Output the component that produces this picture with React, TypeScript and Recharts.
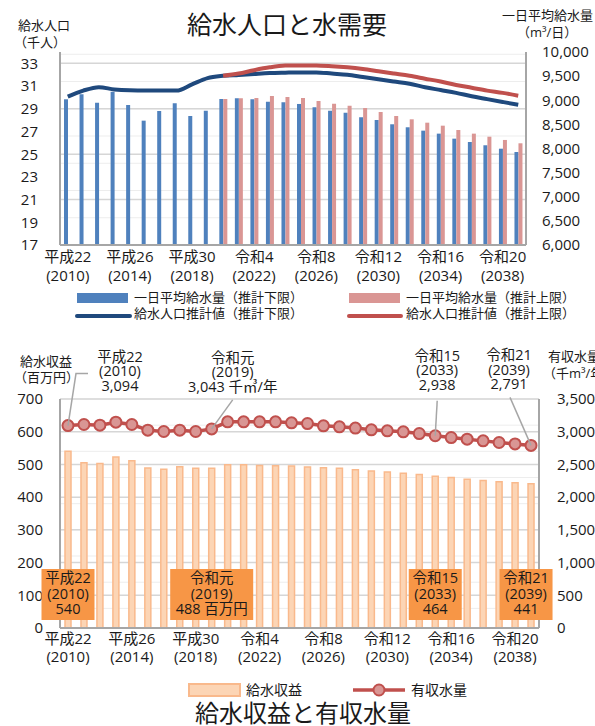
import React from 'react';
import {
  ComposedChart,
  Bar,
  Line,
  XAxis,
  YAxis,
  CartesianGrid,
  LabelList,
} from 'recharts';

const FONT = "'Open Sans', 'Noto Sans CJK JP', sans-serif";
const TEXT = '#1a1a1a';
const FRAME = '#a6a6a6';

const years = [
  2010, 2011, 2012, 2013, 2014, 2015, 2016, 2017, 2018, 2019,
  2020, 2021, 2022, 2023, 2024, 2025, 2026, 2027, 2028, 2029,
  2030, 2031, 2032, 2033, 2034, 2035, 2036, 2037, 2038, 2039,
];

const eras = [
  '平成22', '平成23', '平成24', '平成25', '平成26', '平成27', '平成28', '平成29', '平成30', '令和元',
  '令和2', '令和3', '令和4', '令和5', '令和6', '令和7', '令和8', '令和9', '令和10', '令和11',
  '令和12', '令和13', '令和14', '令和15', '令和16', '令和17', '令和18', '令和19', '令和20', '令和21',
];

// 一日平均給水量 (m3/日)
const supplyLow = [
  9020, 9124, 8950, 9178, 8902, 8577, 8778, 8937, 8674, 8784,
  9027, 9041, 9020, 8971, 8958, 8923, 8854, 8784, 8743, 8647,
  8591, 8502, 8440, 8370, 8308, 8204, 8135, 8067, 7996, 7928,
];
const supplyHigh = [
  null, null, null, null, null, null, null, null, null, null,
  9027, 9041, 9047, 9089, 9068, 9047, 8985, 8930, 8888, 8840,
  8757, 8674, 8605, 8535, 8473, 8384, 8308, 8245, 8177, 8108,
];

// 給水人口 (千人)
const popLow = [
  30.07, 30.6, 30.9, 30.7, 30.62, 30.6, 30.6, 30.6, 31.15, 31.7,
  31.9, 31.98, 32.07, 32.15, 32.18, 32.2, 32.2, 32.1, 32.0, 31.8,
  31.6, 31.4, 31.2, 30.9, 30.65, 30.4, 30.1, 29.85, 29.6, 29.35,
];
const popHigh = [
  null, null, null, null, null, null, null, null, null, null,
  31.9, 32.1, 32.4, 32.65, 32.8, 32.82, 32.8, 32.75, 32.65, 32.5,
  32.3, 32.1, 31.9, 31.65, 31.4, 31.1, 30.85, 30.6, 30.4, 30.15,
];

// 給水収益 (百万円)
const revenue = [
  540, 505, 503, 523, 511, 489, 485, 493, 488, 488,
  499, 499, 497, 496, 495, 492, 490, 488, 484, 480,
  477, 473, 469, 464, 460, 455, 451, 447, 444, 441,
];

// 有収水量 (千m3/年)
const water = [
  3094, 3110, 3100, 3146, 3110, 3024, 3003, 3024, 3003, 3043,
  3151, 3151, 3151, 3151, 3136, 3125, 3090, 3075, 3055, 3029,
  3013, 2998, 2972, 2938, 2911, 2886, 2860, 2835, 2814, 2791,
];

const popTicks = [17, 19, 21, 23, 25, 27, 29, 31, 33];
const supplyTicks = [6000, 6500, 7000, 7500, 8000, 8500, 9000, 9500, 10000];
const revenueTicks = [0, 100, 200, 300, 400, 500, 600, 700];
const waterTicks = [0, 500, 1000, 1500, 2000, 2500, 3000, 3500];
const popMinor = Array.from({ length: 43 }, (_, i) => 17 + i * 0.4);
const revenueMinor = Array.from({ length: 36 }, (_, i) => i * 20);

const highlighted = [0, 9, 23, 29];

const topData = years.map((year, i) => ({
  era: eras[i],
  year,
  supplyLow: supplyLow[i],
  supplyHigh: supplyHigh[i],
  popLow: popLow[i],
  popHigh: popHigh[i],
}));

const bottomData = years.map((year, i) => ({
  era: eras[i],
  year,
  revenue: revenue[i],
  water: water[i],
  callout: highlighted.includes(i) ? i : undefined,
}));

const fmt = (v: number) => v.toLocaleString('en-US');

// callout text / leader offsets relative to the point
const waterCallouts: Record<number, { dx: number; dy: number; leader: number[][]; unit?: string }> = {
  0: { dx: 52, dy: -64, leader: [[8, -52], [20, -52]] },
  9: { dx: 21, dy: -66, leader: [[21, -29]], unit: ' 千㎥/年' },
  23: { dx: 2, dy: -75, leader: [[2, -35]] },
  29: { dx: -22, dy: -85, leader: [[-21, -48]] },
};
const revenueBoxes: Record<number, { w: number; dx: number; unit?: string }> = {
  0: { w: 53, dx: 0 },
  9: { w: 83, dx: 0, unit: ' 百万円' },
  23: { w: 53, dx: 0 },
  29: { w: 53, dx: -5 },
};

const makeEraTick = (dy1: number, dy2: number) => (props: any) => {
  const { x, y, payload } = props;
  const i = eras.indexOf(payload.value);
  return (
    <text x={x} y={y} textAnchor="middle" fontSize={15} fill={TEXT} fontFamily={FONT}>
      <tspan x={x} dy={dy1}>{payload.value}</tspan>
      <tspan x={x} dy={dy2}>({years[i]})</tspan>
    </text>
  );
};

const WaterCallout = (props: any) => {
  const i = props.value;
  const c = waterCallouts[i];
  if (c === undefined) return null;
  const vb = props.viewBox || props;
  const px = vb.x ?? props.x;
  const py = vb.y ?? props.y;
  const pts = [[px, py], ...c.leader.map(([dx, dy]) => [px + dx, py + dy])];
  const tx = px + c.dx;
  const ty = py + c.dy;
  return (
    <g>
      <polyline
        points={pts.map((p) => p.join(',')).join(' ')}
        fill="none"
        stroke={FRAME}
        strokeWidth={1.5}
      />
      <text x={tx} y={ty} textAnchor="middle" fontSize={14.5} fill={TEXT} fontFamily={FONT}>
        <tspan x={tx} dy={0}>{eras[i]}</tspan>
        <tspan x={tx} dy={14.5}>({years[i]})</tspan>
        <tspan x={tx} dy={14.5}>{fmt(water[i]) + (c.unit || '')}</tspan>
      </text>
    </g>
  );
};

const RevenueBox = (props: any) => {
  const i = props.value;
  const b = revenueBoxes[i];
  if (b === undefined) return null;
  const vb = props.viewBox || props;
  const bx = vb.x ?? props.x;
  const by = vb.y ?? props.y;
  const bw = vb.width ?? props.width;
  const bh = vb.height ?? props.height;
  const cx = bx + bw / 2 + b.dx;
  const bottom = by + bh - 8;
  const top = bottom - 51;
  return (
    <g>
      <rect x={cx - b.w / 2} y={top} width={b.w} height={51} fill="#F79646" />
      <text x={cx} y={top} textAnchor="middle" fontSize={14.5} fill={TEXT} fontFamily={FONT}>
        <tspan x={cx} dy={14}>{eras[i]}</tspan>
        <tspan x={cx} dy={15.5}>({years[i]})</tspan>
        <tspan x={cx} dy={15.5}>{revenue[i] + (b.unit || '')}</tspan>
      </text>
    </g>
  );
};

const TopChart = () => (
  <ComposedChart
    width={595}
    height={330}
    data={topData}
    margin={{ top: 52, right: 0, left: 0, bottom: 45 }}
    barGap={0}
  >
    <CartesianGrid vertical={false} horizontalValues={popMinor} stroke="#ededed" />
    <CartesianGrid vertical={false} horizontalValues={popTicks} stroke="#d6d6d6" strokeWidth={1.5} />
    <XAxis
      dataKey="era"
      interval={3}
      height={40}
      tickLine={false}
      axisLine={{ stroke: FRAME, strokeWidth: 2 }}
      tick={makeEraTick(9, 19)}
    />
    <XAxis
      xAxisId="top"
      dataKey="era"
      orientation="top"
      height={0}
      tick={false}
      tickLine={false}
      axisLine={{ stroke: FRAME, strokeWidth: 2 }}
    />
    <YAxis
      domain={[17, 34]}
      ticks={popTicks}
      width={60}
      tickLine={false}
      tickMargin={16}
      axisLine={{ stroke: FRAME, strokeWidth: 2 }}
      tick={{ fontSize: 15, fill: TEXT, fontFamily: FONT }}
    />
    <YAxis
      yAxisId="supply"
      orientation="right"
      domain={[6000, 10000]}
      ticks={supplyTicks}
      width={69}
      tickLine={false}
      tickMargin={10}
      tickFormatter={fmt}
      axisLine={{ stroke: FRAME, strokeWidth: 2 }}
      tick={{ fontSize: 15, fill: TEXT, fontFamily: FONT, textAnchor: 'start' }}
    />
    <Bar yAxisId="supply" dataKey="supplyLow" fill="#4F81BD" barSize={4} isAnimationActive={false} />
    <Bar yAxisId="supply" dataKey="supplyHigh" fill="#DA9694" barSize={4} isAnimationActive={false} />
    <Line
      type="monotone"
      dataKey="popLow"
      stroke="#1F497D"
      strokeWidth={4}
      dot={false}
      isAnimationActive={false}
    />
    <Line
      type="monotone"
      dataKey="popHigh"
      stroke="#C0504D"
      strokeWidth={4}
      dot={false}
      connectNulls={false}
      isAnimationActive={false}
    />
  </ComposedChart>
);

const BottomChart = () => (
  <ComposedChart
    width={595}
    height={396}
    data={bottomData}
    margin={{ top: 69, right: 0, left: 0, bottom: 58 }}
  >
    <CartesianGrid vertical={false} horizontalValues={revenueMinor} stroke="#ededed" />
    <CartesianGrid vertical={false} horizontalValues={revenueTicks} stroke="#d6d6d6" strokeWidth={1.5} />
    <XAxis
      dataKey="era"
      interval={3}
      height={40}
      tickLine={false}
      axisLine={{ stroke: FRAME, strokeWidth: 2 }}
      tick={makeEraTick(8, 18)}
    />
    <XAxis
      xAxisId="top"
      dataKey="era"
      orientation="top"
      height={0}
      tick={false}
      tickLine={false}
      axisLine={{ stroke: FRAME, strokeWidth: 2 }}
    />
    <YAxis
      domain={[0, 700]}
      ticks={revenueTicks}
      width={60}
      tickLine={false}
      tickMargin={11}
      axisLine={{ stroke: FRAME, strokeWidth: 2 }}
      tick={{ fontSize: 15, fill: TEXT, fontFamily: FONT }}
    />
    <YAxis
      yAxisId="water"
      orientation="right"
      domain={[0, 3500]}
      ticks={waterTicks}
      width={56}
      tickLine={false}
      tickMargin={12}
      tickFormatter={fmt}
      axisLine={{ stroke: FRAME, strokeWidth: 2 }}
      tick={{ fontSize: 15, fill: TEXT, fontFamily: FONT, textAnchor: 'start' }}
    />
    <Bar
      dataKey="revenue"
      fill="#FCD5B5"
      stroke="#F9B98C"
      strokeWidth={1.5}
      barSize={6}
      isAnimationActive={false}
    >
      <LabelList dataKey="callout" content={RevenueBox} />
    </Bar>
    <Line
      yAxisId="water"
      type="linear"
      dataKey="water"
      stroke="#C0504D"
      strokeWidth={3.5}
      dot={{ r: 5.5, fill: '#D99694', stroke: '#C0504D', strokeWidth: 2 }}
      isAnimationActive={false}
    >
      <LabelList dataKey="callout" content={WaterCallout} />
    </Line>
  </ComposedChart>
);

const Overlay = () => (
  <svg
    width={595}
    height={726}
    style={{ position: 'absolute', left: 0, top: 0, pointerEvents: 'none' }}
    fontFamily={FONT}
    fill={TEXT}
  >
    <text x={287} y={34} fontSize={25} textAnchor="middle">給水人口と水需要</text>
    <text x={18} y={30} fontSize={13}>給水人口</text>
    <text x={14} y={47} fontSize={13}>（千人）</text>
    <text x={502} y={20} fontSize={13}>一日平均給水量</text>
    <text x={517} y={37} fontSize={13}>（m³/日）</text>

    <rect x={77} y={293} width={51} height={10} fill="#4F81BD" />
    <text x={134} y={302} fontSize={13}>一日平均給水量（推計下限）</text>
    <rect x={349} y={293} width={51} height={10} fill="#DA9694" />
    <text x={406} y={302} fontSize={13}>一日平均給水量（推計上限）</text>
    <line x1={77} x2={130} y1={316} y2={316} stroke="#1F497D" strokeWidth={4} strokeLinecap="round" />
    <text x={134} y={318} fontSize={13}>給水人口推計値（推計下限）</text>
    <line x1={349} x2={401} y1={316} y2={316} stroke="#C0504D" strokeWidth={4} strokeLinecap="round" />
    <text x={406} y={318} fontSize={13}>給水人口推計値（推計上限）</text>

    <text x={20} y={366} fontSize={13}>給水収益</text>
    <text x={14} y={382} fontSize={13}>（百万円）</text>
    <text x={548} y={361} fontSize={13}>有収水量</text>
    <text x={543} y={378} fontSize={13}>（千m³/年）</text>

    <rect x={189} y={684} width={51} height={12} fill="#FCD5B5" stroke="#F9B98C" strokeWidth={2} />
    <text x={246} y={695} fontSize={14}>給水収益</text>
    <line x1={353} x2={405} y1={690} y2={690} stroke="#C0504D" strokeWidth={3.5} />
    <circle cx={379} cy={690} r={5.5} fill="#D99694" stroke="#C0504D" strokeWidth={2} />
    <text x={411} y={695} fontSize={14}>有収水量</text>

    <text x={303} y={722} fontSize={24} textAnchor="middle">給水収益と有収水量</text>
  </svg>
);

export default function App() {
  return (
    <div
      style={{
        position: 'absolute',
        left: 0,
        top: 0,
        width: 595,
        height: 726,
        background: '#fff',
        fontFamily: FONT,
        overflow: 'hidden',
      }}
    >
      <div style={{ position: 'absolute', left: 0, top: 0 }}>
        <TopChart />
      </div>
      <div style={{ position: 'absolute', left: 0, top: 330 }}>
        <BottomChart />
      </div>
      <Overlay />
    </div>
  );
}
